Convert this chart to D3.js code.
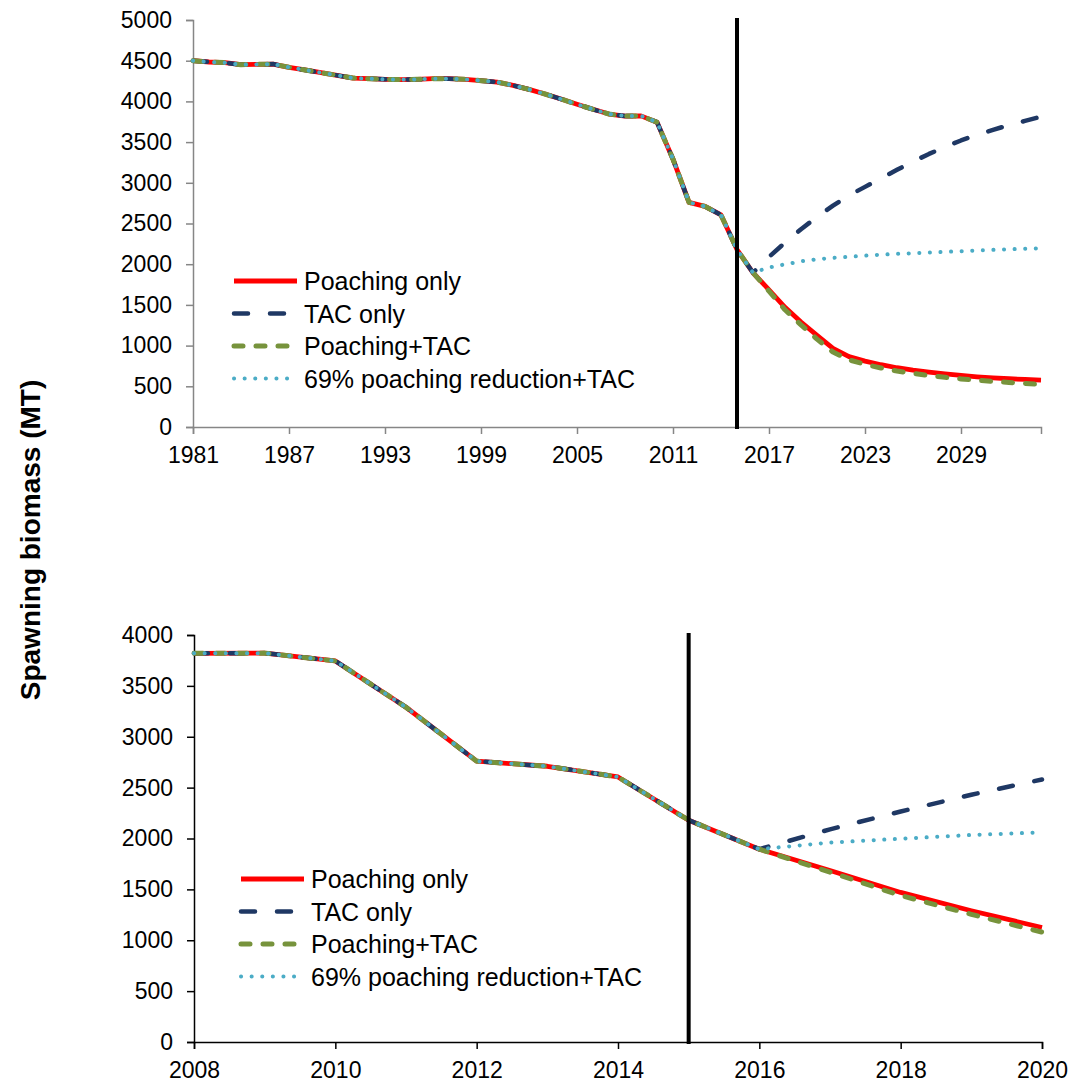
<!DOCTYPE html>
<html>
<head>
<meta charset="utf-8">
<script src="https://cdn.jsdelivr.net/npm/d3@7"></script>
<style>
  body { margin: 0; background: #fff; }
  svg { display: block; font-family: "Liberation Sans", Arial, sans-serif; }
</style>
</head>
<body>
<script>
// historic spawning biomass 1981-2016 (shared by all scenarios)
const histStart = 1981;
const histBiomass = [4500, 4484, 4476, 4451, 4455, 4459, 4419, 4386, 4353, 4320,
  4287, 4279, 4271, 4267, 4271, 4279, 4279, 4271, 4255, 4238,
  4197, 4148, 4091, 4029, 3964, 3903, 3845, 3820, 3822, 3745,
  3290, 2760, 2710, 2605, 2180, 1895];

// projections 2017-2034
const projStart = 2017;
const poachOnly = [1685, 1470, 1290, 1125, 965, 865, 810, 765, 728, 698, 673, 652, 633, 617, 604, 593, 584, 577];
const tacOnly = [2090, 2265, 2430, 2580, 2720, 2845, 2950, 3055, 3160, 3260, 3355, 3440, 3520, 3590, 3650, 3710, 3760, 3812];
const poachTac = [1670, 1440, 1255, 1080, 920, 825, 770, 725, 688, 658, 632, 610, 591, 575, 560, 547, 535, 522];
const reduction69 = [1960, 1998, 2035, 2060, 2078, 2090, 2105, 2117, 2127, 2135, 2143, 2152, 2160, 2168, 2176, 2183, 2190, 2196];

const seriesNames = ['Poaching only', 'TAC only', 'Poaching+TAC', '69% poaching reduction+TAC'];
const cutYear = 2015;

const topXTicks = [1981, 1987, 1993, 1999, 2005, 2011, 2017, 2023, 2029];
const topYTicks = [0, 500, 1000, 1500, 2000, 2500, 3000, 3500, 4000, 4500, 5000];
const botXTicks = [2008, 2010, 2012, 2014, 2016, 2018, 2020];
const botYTicks = [0, 500, 1000, 1500, 2000, 2500, 3000, 3500, 4000];

const fontFam = '"Liberation Sans", Arial, sans-serif';

const styles = [
  { color: '#ff0000', width: 4.8, dash: null, cap: 'butt' },
  { color: '#1f3864', width: 4.5, dash: '14,22', cap: 'round' },
  { color: '#77933c', width: 5, dash: '9,13', cap: 'round' },
  { color: '#4bacc6', width: 4, dash: '0.1,10.5', cap: 'round' }
];

function buildSeries(proj) {
  let pts = histBiomass.map((v, i) => ({ year: histStart + i, value: v }));
  proj.forEach((v, i) => pts.push({ year: projStart + i, value: v }));
  return pts;
}

const allSeries = [poachOnly, tacOnly, poachTac, reduction69].map(buildSeries);

const svg = d3.select('body').append('svg')
  .attr('width', 1073)
  .attr('height', 1084);

function drawPanel(opt) {
  const x = d3.scaleLinear().domain(opt.xDomain).range([opt.left, opt.right]);
  const y = d3.scaleLinear().domain(opt.yDomain).range([opt.bottom, opt.top]);
  const g = svg.append('g');

  const xAxis = g.append('g')
    .attr('transform', `translate(0,${opt.bottom})`)
    .call(d3.axisBottom(x).tickValues(opt.xTicks).tickFormat(d3.format('d')).tickSizeOuter(0).tickSize(7).tickPadding(13));
  const yAxis = g.append('g')
    .attr('transform', `translate(${opt.left},0)`)
    .call(d3.axisLeft(y).tickValues(opt.yTicks).tickFormat(d3.format('d')).tickSizeOuter(0).tickSize(7).tickPadding(14));

  for (let ax of [xAxis, yAxis]) {
    ax.attr('font-family', fontFam).attr('font-size', 23);
    ax.select('.domain').attr('stroke', opt.axisColor).attr('stroke-width', 1.5);
    ax.selectAll('.tick line').attr('stroke', opt.axisColor).attr('stroke-width', 1.5);
    ax.selectAll('.tick text').attr('fill', '#000');
  }

  const line = d3.line()
    .x(d => x(d.year))
    .y(d => y(d.value));

  allSeries.forEach((s, i) => {
    let data = s.filter(d => d.year >= opt.xDomain[0] && d.year <= opt.xDomain[1]);
    let st = styles[i];
    g.append('path')
      .datum(data)
      .attr('fill', 'none')
      .attr('stroke', st.color)
      .attr('stroke-width', st.width)
      .attr('stroke-linecap', st.cap)
      .attr('stroke-linejoin', 'round')
      .attr('stroke-dasharray', st.dash)
      .attr('d', line);
  });

  g.append('line')
    .attr('x1', x(cutYear)).attr('x2', x(cutYear))
    .attr('y1', opt.top - 2).attr('y2', opt.bottom + 2)
    .attr('stroke', '#000')
    .attr('stroke-width', 4);

  // legend
  seriesNames.forEach((name, i) => {
    let st = styles[i];
    let ly = opt.legY + i * opt.legStep;
    g.append('line')
      .attr('x1', opt.legX).attr('x2', opt.legX + 63)
      .attr('y1', ly).attr('y2', ly)
      .attr('stroke', st.color)
      .attr('stroke-width', st.width)
      .attr('stroke-linecap', st.cap)
      .attr('stroke-dasharray', st.dash);
    g.append('text')
      .attr('x', opt.legX + 70)
      .attr('y', ly + 9)
      .style('font-size', '25px')
      .text(name);
  });
}

drawPanel({
  xDomain: [1981, 2034], yDomain: [0, 5000],
  left: 193, right: 1041, top: 20, bottom: 427,
  xTicks: topXTicks, yTicks: topYTicks, axisColor: '#868686',
  legX: 234, legY: 281, legStep: 32.5
});

drawPanel({
  xDomain: [2008, 2020], yDomain: [0, 4000],
  left: 194, right: 1042, top: 635, bottom: 1042,
  xTicks: botXTicks, yTicks: botYTicks, axisColor: '#000',
  legX: 241, legY: 879, legStep: 32.5
});

svg.append('text')
  .attr('transform', 'translate(40,540) rotate(-90)')
  .attr('text-anchor', 'middle')
  .style('font-size', '28px')
  .style('font-weight', 'bold')
  .text('Spawning biomass (MT)');
</script>
</body>
</html>
